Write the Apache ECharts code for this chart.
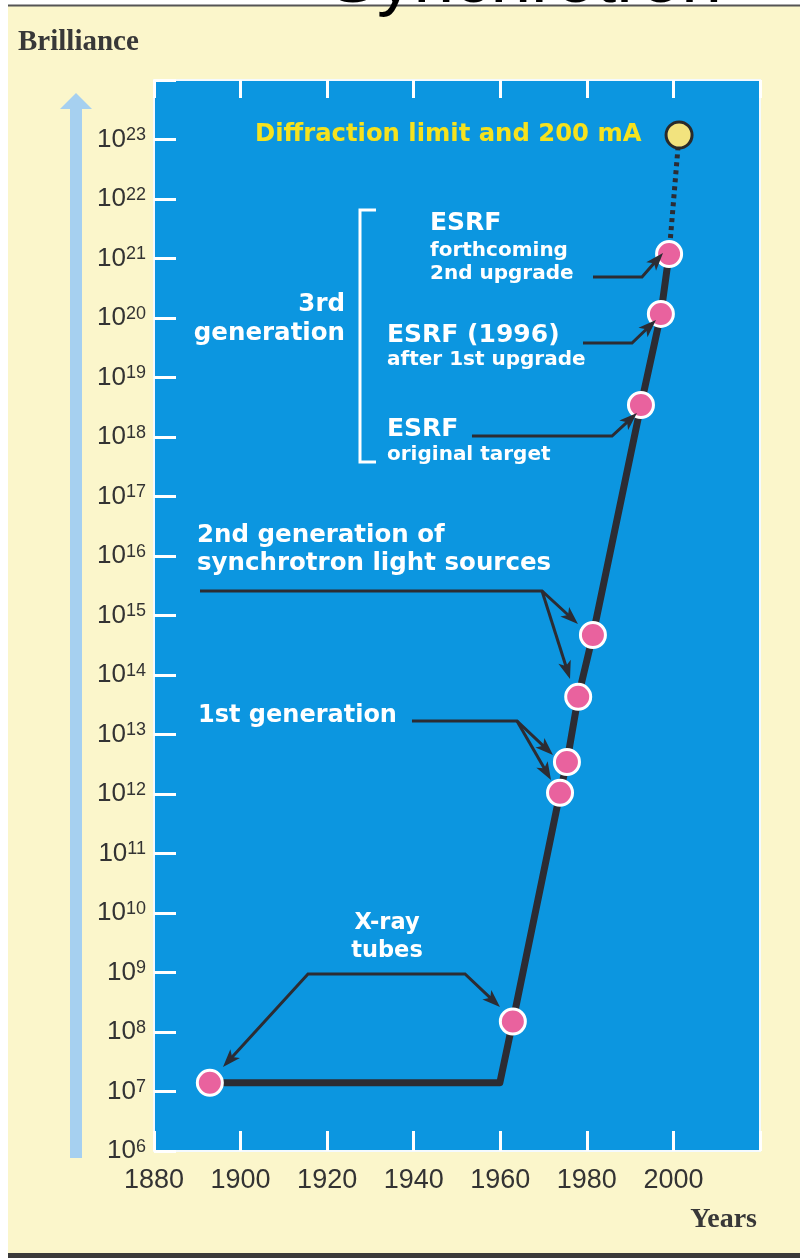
<!DOCTYPE html>
<html><head><meta charset="utf-8">
<script src="https://cdn.jsdelivr.net/npm/echarts@6/dist/echarts.min.js"></script>
<style>html,body{margin:0;padding:0;background:#fff}#c{width:800px;height:1258px}</style>
</head><body><div id="c"></div>
<script>
// ---------------- data ----------------
const yearMin = 1880, yearMax = 2020, yearStep = 20;
const brillianceMin = 1e6, brillianceMax = 1e24;
// light sources (year, brilliance)
const sourceNames = ['X-ray tube (early)', 'X-ray tube (rotating anode)', '1st generation A', '1st generation B',
  '2nd generation A', '2nd generation B', 'ESRF original target', 'ESRF (1996) after 1st upgrade', 'ESRF forthcoming 2nd upgrade'];
const sourceYears = [1892.9, 1962.9, 1973.8, 1975.4, 1978.0, 1981.4, 1992.5, 1997.1, 1999.0];
const sourceBrilliance = [1.4e7, 1.5e8, 1.05e12, 3.45e12, 4.3e13, 4.7e14, 3.45e18, 1.17e20, 1.19e21];
// trend line through the sources
const trendYears = [1892.9, 1959.9, 1962.9, 1973.8, 1975.4, 1978.0, 1981.4, 1992.5, 1997.1, 1999.0];
const trendBrilliance = [1.4e7, 1.4e7, 1.5e8, 1.05e12, 3.45e12, 4.3e13, 4.7e14, 3.45e18, 1.17e20, 1.19e21];
// diffraction limit target
const limitYear = 2001.3;
const limitBrilliance = 1.19e23;

// annotation texts: [year, log10(brilliance)] anchors
const labelTexts = [
  {t: 'Diffraction limit and 200 mA', p: [1903.33, 23.076], a: 'left', s: 24.3, c: '#F5E21E'},
  {t: 'ESRF', p: [1943.76, 21.58], a: 'left', s: 25},
  {t: 'forthcoming', p: [1943.76, 21.126], a: 'left', s: 20},
  {t: '2nd upgrade', p: [1943.76, 20.739], a: 'left', s: 20},
  {t: 'ESRF (1996)', p: [1933.83, 19.714], a: 'left', s: 25},
  {t: 'after 1st upgrade', p: [1933.83, 19.294], a: 'left', s: 20},
  {t: 'ESRF', p: [1933.83, 18.118], a: 'left', s: 25},
  {t: 'original target', p: [1933.83, 17.697], a: 'left', s: 20},
  {t: '3rd', p: [1924.13, 20.218], a: 'right', s: 24.5},
  {t: 'generation', p: [1924.13, 19.731], a: 'right', s: 24.5},
  {t: '2nd generation of', p: [1889.93, 16.336], a: 'left', s: 24.5},
  {t: 'synchrotron light sources', p: [1889.93, 15.866], a: 'left', s: 24.5},
  {t: '1st generation', p: [1890.17, 13.319], a: 'left', s: 24},
  {t: 'X-ray', p: [1933.83, 9.824], a: 'center', s: 22.5},
  {t: 'tubes', p: [1933.83, 9.361], a: 'center', s: 22.5}
];
// annotation arrows: polylines in [year, log10(brilliance)]
const arrowPaths = [
  {pts: [[1981.42, 20.689], [1992.74, 20.689], [1997.59, 21.092]], end: true},
  {pts: [[1979.11, 19.58], [1990.43, 19.58], [1995.97, 19.966]], end: true},
  {pts: [[1953.46, 18.017], [1985.81, 18.017], [1991.58, 18.403]], end: true},
  {pts: [[1890.63, 15.412], [1969.64, 15.412], [1977.95, 14.857]], end: true},
  {pts: [[1969.64, 15.412], [1976.11, 13.933]], end: true},
  {pts: [[1939.60, 13.227], [1963.86, 13.227], [1972.18, 12.655]], end: true},
  {pts: [[1963.86, 13.227], [1971.72, 12.235]], end: true},
  {pts: [[1895.94, 7.412], [1915.58, 8.975], [1951.85, 8.975], [1959.93, 8.42]], start: true, end: true}
];
const bracketPath = [[1931.29, 21.815], [1927.59, 21.815], [1927.59, 17.58], [1931.29, 17.58]];

// ---------------- chart ----------------
const chart = echarts.init(document.getElementById('c'), null, {renderer: 'canvas', width: 800, height: 1258});
const sans = '"Liberation Sans", Arial, sans-serif';
const lineColor = '#2C2C33';

const tickLabel = {fontSize: 26, lineHeight: 26, color: '#333', fontFamily: sans};

chart.setOption({
  animation: false,
  backgroundColor: '#FBF6CB',
  grid: {left: 154, right: 40, top: 80, height: 1071, show: true, backgroundColor: '#0C96E0',
         borderColor: '#F4FAFF', borderWidth: 2, containLabel: false},
  xAxis: [
    {type: 'value', min: yearMin, max: yearMax, interval: yearStep, position: 'bottom',
     axisLine: {show: false}, splitLine: {show: false},
     axisTick: {inside: true, length: 20, lineStyle: {color: '#fff', width: 3}},
     axisLabel: {margin: 16, fontSize: 27, color: '#333', fontFamily: sans,
                 formatter: v => (v >= yearMax ? '' : String(v))}},
    {type: 'value', min: yearMin, max: yearMax, interval: yearStep, position: 'top',
     axisLine: {show: false}, splitLine: {show: false},
     axisTick: {inside: true, length: 18, lineStyle: {color: '#fff', width: 3}},
     axisLabel: {show: false}}
  ],
  yAxis: {
    type: 'log', logBase: 10, min: brillianceMin, max: brillianceMax, splitNumber: 18, interval: 1,
    axisLine: {show: false}, splitLine: {show: false}, minorTick: {show: false},
    axisTick: {inside: true, length: 22, lineStyle: {color: '#fff', width: 3}},
    axisLabel: {margin: 8, ...tickLabel,
      formatter: v => {
        const e = Math.round(Math.log10(v));
        if (e >= 24) return '';
        return '10{s|' + e + '}';
      },
      rich: {s: {fontSize: 18, lineHeight: 18, verticalAlign: 'top', color: '#333', fontFamily: sans}}
    }
  },
  series: [
    {type: 'line', name: 'trend', silent: true, z: 3,
     data: trendYears.map((y, i) => [y, trendBrilliance[i]]), symbol: 'none',
     lineStyle: {color: lineColor, width: 7, cap: 'round', join: 'round'}},
    {type: 'line', name: 'projection', silent: true, z: 3,
     data: [[sourceYears[sourceYears.length - 1], sourceBrilliance[sourceBrilliance.length - 1]], [limitYear, limitBrilliance]],
     symbol: 'none', lineStyle: {color: lineColor, width: 5, type: [4, 4], cap: 'butt'}},
    {type: 'scatter', name: 'sources', z: 5,
     data: sourceYears.map((y, i) => ({name: sourceNames[i], value: [y, sourceBrilliance[i]]})),
     symbolSize: 25, itemStyle: {color: '#E9629E', borderColor: '#FFFFFF', borderWidth: 3, opacity: 1}},
    {type: 'scatter', name: 'limit', z: 5, data: [[limitYear, limitBrilliance]],
     symbolSize: 26, itemStyle: {color: '#F2E37E', borderColor: '#2A2A2A', borderWidth: 3, opacity: 1}}
  ]
});

// ---------------- decorations & annotations ----------------
const toPx = p => chart.convertToPixel({xAxisIndex: 0, yAxisIndex: 0}, [p[0], Math.pow(10, p[1])]);
const els = [];
// page frame
els.push({type: 'rect', z: 50, shape: {x: 0, y: 0, width: 800, height: 5}, style: {fill: '#fff'}});
els.push({type: 'rect', z: 50, shape: {x: 0, y: 0, width: 8, height: 1258}, style: {fill: '#fff'}});
els.push({type: 'line', z: 51, shape: {x1: 8, y1: 5.5, x2: 800, y2: 5.5}, style: {stroke: '#555', lineWidth: 2}});
els.push({type: 'rect', z: 51, shape: {x: 8, y: 1253, width: 792, height: 5}, style: {fill: '#3a3a3a'}});
els.push({type: 'text', z: 60, x: 525, y: -18,
  style: {text: 'Synchrotron', font: '73px ' + sans, fill: '#000', align: 'center', verticalAlign: 'middle',
          textAlign: 'center', textVerticalAlign: 'middle'}});
// brilliance arrow
els.push({type: 'rect', z: 5, shape: {x: 70, y: 106, width: 12, height: 1052}, style: {fill: '#A6D0F0'}});
els.push({type: 'polygon', z: 5, shape: {points: [[60, 109], [92, 109], [76, 93]]}, style: {fill: '#A6D0F0'}});
els.push({type: 'text', z: 10, x: 18, y: 43,
  style: {text: 'Brilliance', font: 'bold 29px "Liberation Serif", "Times New Roman", serif', fill: '#383838',
          align: 'left', verticalAlign: 'middle', textAlign: 'left', textVerticalAlign: 'middle'}});
els.push({type: 'text', z: 10, x: 757, y: 1220,
  style: {text: 'Years', font: 'bold 28px "Liberation Serif", "Times New Roman", serif', fill: '#383838',
          align: 'right', verticalAlign: 'middle', textAlign: 'right', textVerticalAlign: 'middle'}});

// bracket
els.push({type: 'polyline', z: 20, shape: {points: bracketPath.map(toPx)},
  style: {stroke: '#fff', lineWidth: 3, fill: null}});

function head(tip, from) {
  const dx = tip[0] - from[0], dy = tip[1] - from[1];
  const len = Math.hypot(dx, dy), ux = dx / len, uy = dy / len, nx = -uy, ny = ux;
  const L = 18, W = 6.5;
  const bx = tip[0] - ux * L, by = tip[1] - uy * L;
  return {poly: [tip, [bx + nx * W, by + ny * W], [tip[0] - ux * L * 0.75, tip[1] - uy * L * 0.75], [bx - nx * W, by - ny * W]],
          back: [tip[0] - ux * L * 0.7, tip[1] - uy * L * 0.7]};
}
arrowPaths.forEach(a => {
  const pts = a.pts.map(toPx);
  const line = pts.slice();
  if (a.end) {
    const h = head(pts[pts.length - 1], pts[pts.length - 2]);
    line[line.length - 1] = h.back;
    els.push({type: 'polygon', z: 21, shape: {points: h.poly}, style: {fill: lineColor}});
  }
  if (a.start) {
    const h = head(pts[0], pts[1]);
    line[0] = h.back;
    els.push({type: 'polygon', z: 21, shape: {points: h.poly}, style: {fill: lineColor}});
  }
  els.push({type: 'polyline', z: 20, shape: {points: line}, style: {stroke: lineColor, lineWidth: 3, fill: null, lineJoin: 'miter'}});
});

labelTexts.forEach(l => {
  const p = toPx(l.p);
  els.push({type: 'text', z: 22, x: p[0], y: p[1],
    style: {text: l.t, font: 'bold ' + l.s + 'px "DejaVu Sans", sans-serif', fill: l.c || '#FFFFFF',
            align: l.a, verticalAlign: 'middle', textAlign: l.a, textVerticalAlign: 'middle'}});
});

chart.setOption({graphic: {elements: els}});
</script>
</body></html>
